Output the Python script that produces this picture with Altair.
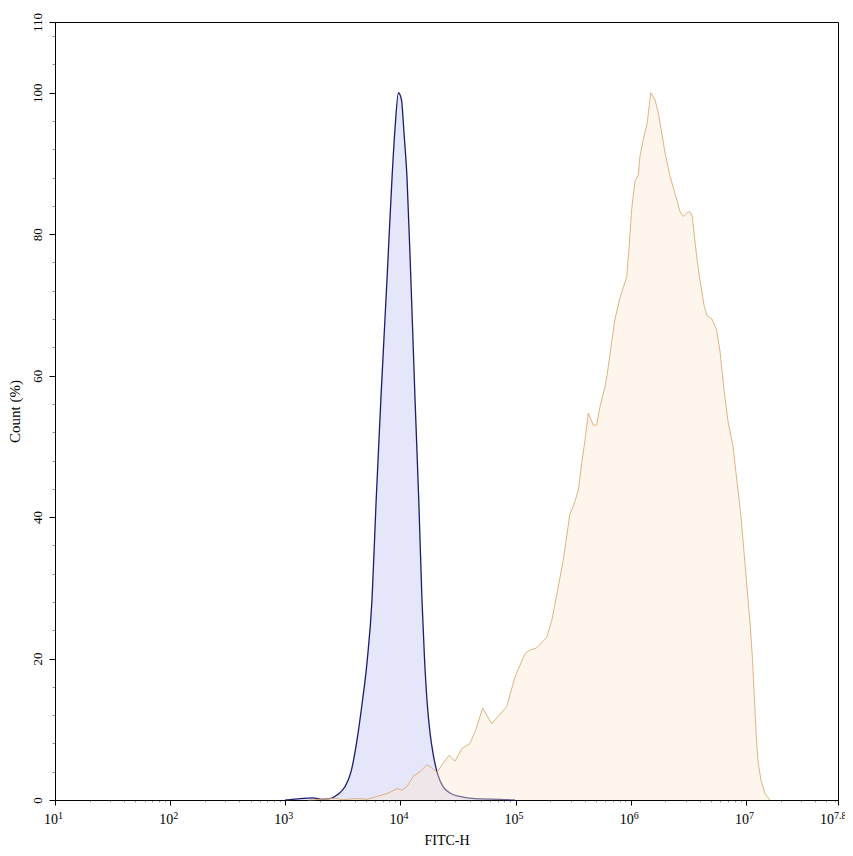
import altair as alt
import pandas as pd

# ---- data (x positions given as log10 of FITC-H, y as Count %) ----
blue_log = [3.00, 3.041, 3.128, 3.241, 3.319, 3.388, 3.458, 3.519, 3.571, 3.623, 3.666,
            3.710, 3.753, 3.788, 3.831, 3.883, 3.927, 3.953, 3.983, 4.009, 4.031,
            4.057, 4.092, 4.126, 4.160, 4.187, 4.209, 4.231, 4.257, 4.283, 4.326,
            4.370, 4.430, 4.517, 4.691, 4.865, 4.995]
blue_count = [0.0, 0.05, 0.2, 0.3, 0.1, 0.2, 0.8, 1.9, 4.0, 8.5, 13.5,
              19.5, 28.3, 42.0, 57.0, 73.5, 88.0, 95.0, 100.0, 99.0, 94.3,
              88.0, 73.0, 57.0, 42.0, 28.3, 20.0, 14.0, 9.5, 6.6, 3.5,
              1.9, 1.0, 0.5, 0.15, 0.1, 0.0]

orange_log = [3.20, 3.327, 3.432, 3.501, 3.623, 3.710, 3.796, 3.883, 3.970, 4.013, 4.057,
              4.109, 4.170, 4.231, 4.274, 4.317, 4.370, 4.422, 4.474, 4.535, 4.604,
              4.656, 4.714, 4.743, 4.792, 4.847, 4.923, 4.995, 5.082, 5.125, 5.183,
              5.270, 5.316, 5.357, 5.414, 5.472, 5.501, 5.545, 5.574, 5.603, 5.631,
              5.675, 5.704, 5.733, 5.776, 5.794, 5.828, 5.863, 5.907, 5.965, 5.985,
              6.008, 6.037, 6.066, 6.080, 6.109, 6.144, 6.173, 6.211, 6.240, 6.269,
              6.298, 6.341, 6.384, 6.428, 6.456, 6.486, 6.514, 6.534, 6.573, 6.601,
              6.636, 6.662, 6.706, 6.745, 6.775, 6.810, 6.845, 6.888, 6.923, 6.958,
              6.984, 7.010, 7.036, 7.057, 7.075, 7.092, 7.105, 7.131, 7.166, 7.209]
orange_count = [0.0, 0.1, 0.25, 0.05, 0.2, 0.1, 0.5, 0.9, 1.6, 1.4, 1.9,
                3.3, 4.0, 5.0, 4.5, 3.9, 5.2, 6.3, 5.5, 7.3, 8.0,
                10.0, 13.0, 12.2, 10.8, 11.8, 13.2, 17.4, 20.7, 21.2, 21.5,
                23.0, 25.5, 29.0, 33.9, 40.5, 41.5, 43.8, 47.6, 50.9, 54.7,
                53.0, 53.0, 55.6, 58.4, 60.0, 64.0, 68.0, 71.0, 74.0, 78.0,
                83.5, 87.5, 88.4, 91.0, 93.4, 95.8, 100.0, 99.0, 97.1, 94.3,
                91.5, 88.2, 85.8, 83.2, 82.5, 83.0, 83.2, 82.5, 76.8, 73.5,
                70.0, 68.5, 68.0, 66.5, 63.5, 58.0, 53.5, 50.0, 45.0, 40.0,
                35.0, 30.0, 25.0, 20.0, 14.0, 8.5, 5.5, 2.8, 0.9, 0.0]

major_exps = [1, 2, 3, 4, 5, 6, 7]
major_exp_labels = ["1", "2", "3", "4", "5", "6", "7"]
end_exp = 7.8
end_exp_label = "7.8"
y_ticks_major = [0, 20, 40, 60, 80, 100, 110]
y_ticks_minor = [v for v in range(0, 110, 4) if v % 20 != 0]

FONT = "Liberation Serif"

blue_df = pd.DataFrame({"x": [10 ** v for v in blue_log], "count": blue_count})
orange_df = pd.DataFrame({"x": [10 ** v for v in orange_log], "count": orange_count})
lab_df = pd.DataFrame({"x": [10 ** e for e in major_exps],
                       "base": ["10"] * len(major_exps),
                       "exp": major_exp_labels})
end_df = pd.DataFrame({"x": [10 ** end_exp], "base": ["10"], "exp": [end_exp_label]})

x_major = [10 ** e for e in major_exps] + [10 ** end_exp]
x_minor = [m * 10 ** e for e in major_exps for m in range(2, 10) if m * 10 ** e < 10 ** end_exp]
x_ticks = sorted(x_major + x_minor)

x_major_test = ("abs(log(datum.value)/LN10 - round(log(datum.value)/LN10)) < 0.000001"
                " || datum.value > 6.2e7")

x_enc = alt.X(
    "x:Q",
    scale=alt.Scale(type="log", domain=[10, 10 ** end_exp], nice=False),
    axis=alt.Axis(
        values=x_ticks, labels=False, title="FITC-H", grid=False,
        tickSize={"condition": {"test": x_major_test, "value": 5}, "value": 2},
        tickColor={"condition": {"test": x_major_test, "value": "black"}, "value": "#999999"},
        titleFont=FONT, titleFontSize=14, titleFontWeight="normal", titleColor="black",
        titleY=44, titleBaseline="alphabetic",
        domainColor="black",
    ),
)

y_major_test = "datum.value % 20 == 0 || datum.value == 110"
y_enc = alt.Y(
    "count:Q",
    scale=alt.Scale(domain=[0, 110], nice=False, zero=True),
    axis=alt.Axis(
        values=sorted(y_ticks_major + y_ticks_minor), grid=False,
        labelExpr=f"({y_major_test}) ? datum.label : ''",
        labelAngle=270, labelAlign="center", labelBaseline="bottom", labelPadding=5,
        labelFont=FONT, labelFontSize=13, labelColor="black",
        labelOverlap=False, labelFlush=False,
        tickSize={"condition": {"test": y_major_test, "value": 6}, "value": 3},
        tickColor={"condition": {"test": y_major_test, "value": "black"}, "value": "#999999"},
        title="Count (%)", titleFont=FONT, titleFontSize=15, titleFontWeight="normal",
        titleColor="black", titleAngle=270, titleX=-41, titleY=389,
        titleAlign="center", titleBaseline="middle",
        domainColor="black",
    ),
)

blue_area = alt.Chart(blue_df).mark_area(color="#e6e6fa", opacity=1, interpolate="monotone").encode(x=x_enc, y=y_enc)
blue_line = alt.Chart(blue_df).mark_line(color="#1c1c6e", strokeWidth=1.3, interpolate="monotone").encode(x=x_enc, y=y_enc)
orange_area = alt.Chart(orange_df).mark_area(color="#fce6cf", opacity=0.4, interpolate="linear").encode(x=x_enc, y=y_enc)
orange_line = alt.Chart(orange_df).mark_line(color="#d8a86e", strokeWidth=1, opacity=0.85, interpolate="linear").encode(x=x_enc, y=y_enc)

base_txt = alt.Chart(lab_df).mark_text(align="right", baseline="alphabetic", dx=3, font=FONT, fontSize=14, color="black").encode(
    x=x_enc, y=alt.value(802), text="base:N")
exp_txt = alt.Chart(lab_df).mark_text(align="left", baseline="alphabetic", dx=3, font=FONT, fontSize=10, color="black").encode(
    x=x_enc, y=alt.value(797), text="exp:N")
end_base = alt.Chart(end_df).mark_text(align="right", baseline="alphabetic", dx=-4, font=FONT, fontSize=14, color="black").encode(
    x=x_enc, y=alt.value(802), text="base:N")
end_exp_txt = alt.Chart(end_df).mark_text(align="left", baseline="alphabetic", dx=-4, font=FONT, fontSize=10, color="black").encode(
    x=x_enc, y=alt.value(797), text="exp:N")

chart = alt.layer(
    blue_area, blue_line, orange_area, orange_line, base_txt, exp_txt, end_base, end_exp_txt
).properties(
    width=783, height=778,
    autosize=alt.AutoSizeParams(type="none"),
    padding={"left": 47, "top": 14, "right": 7, "bottom": 48},
    background="white",
).configure_view(stroke="black", strokeWidth=1)

chart.save("out.html", embed_options={"renderer": "svg", "actions": False})
